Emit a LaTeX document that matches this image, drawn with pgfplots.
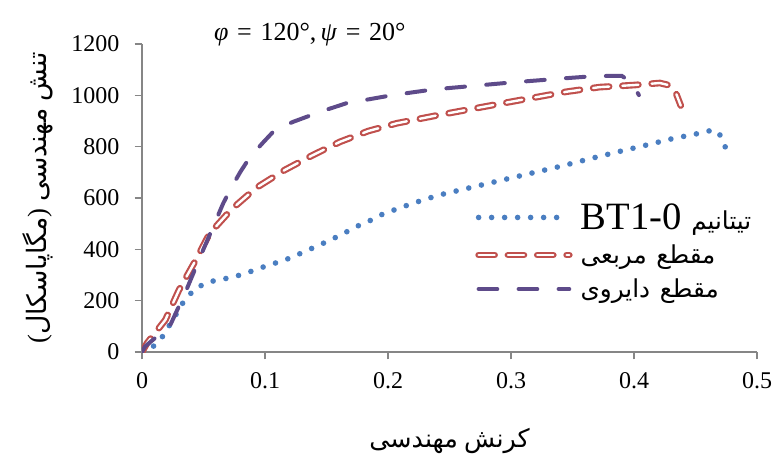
\documentclass[border=0pt]{standalone}
\usepackage{pgfplots}
\pgfplotsset{compat=1.18}
\usepackage{fontspec}
\setmainfont{Liberation Serif}
\newfontfamily\ar[Script=Arabic]{DejaVu Sans}
\newcommand\arl[1]{{\fontsize{18.5}{22}\selectfont\ar #1}}
\newcommand\tl[1]{{\fontsize{18}{21}\selectfont #1}}
\definecolor{cblue}{RGB}{74,126,193}
\definecolor{cred}{RGB}{192,80,77}
\definecolor{cpurple}{RGB}{94,75,138}
\definecolor{caxis}{RGB}{134,134,134}
\pgfplotsset{
  every x tick label/.append style={yshift=-6pt},
  every y tick label/.append style={xshift=-8pt},
}
\begin{document}
\begin{tikzpicture}
\begin{axis}[name=ax, at={(0,0)}, anchor=south west,
  scale only axis, width=461.25pt, height=231pt,
  clip mode=individual,
  xmin=0, xmax=0.5, ymin=0, ymax=1200,
  axis x line=bottom, axis y line=left,
  xtick={0,0.1,0.2,0.3,0.4,0.5}, ytick={0,200,400,600,800,1000,1200},
  xticklabels={\tl{0},\tl{0.1},\tl{0.2},\tl{0.3},\tl{0.4},\tl{0.5}},
  yticklabels={\tl{0},\tl{200},\tl{400},\tl{600},\tl{800},\tl{1000},\tl{1200}},
  axis line style={-, caxis, line width=1.1pt},
  tick align=outside, major tick length=5.5pt,
  tick style={caxis, line width=1pt},
  scaled ticks=false,
  x label style={at={(axis description cs:0.5,-0.29)}, anchor=center, font=\fontsize{19}{23}\selectfont},
  y label style={at={(axis description cs:-0.169,0.5)}, anchor=center, font=\fontsize{20}{24}\selectfont},
  xlabel={{\ar مهندسی} {\ar کرنش}},
  ylabel={({\ar مگاپاسکال}) {\ar مهندسی} {\ar تنش}},
  legend style={at={(rel axis cs:0.535,0.50)}, anchor=north west, draw=none, fill=none,
    font=\fontsize{29}{32}\selectfont, row sep=6pt, column sep=4pt},
  legend cell align=left,
  legend image code/.code={\draw[#1] (0pt,0pt) -- (68pt,0pt);},
]
\addplot[color=cblue, line width=4.2pt, line cap=round, dash pattern=on 0pt off 9.75pt] coordinates {
(0,0)(0.009,21)(0.017,62)(0.0295,161)(0.035,206)(0.044,249)(0.054,273)(0.066,284)(0.077,296)(0.088,313)(0.099,332)(0.11,349)(0.121,367)(0.132,391)(0.143,414)(0.153,436)(0.164,462)(0.174,488)(0.185,511)(0.196,538)(0.21,562)(0.22,579)(0.231,596)(0.242,612)(0.3,678)(0.3425,726)(0.365,754)(0.387,780)(0.409,805)(0.431,831)(0.454,853)(0.465,866)(0.47,845)(0.475,790)};
\addlegendentry{BT1-0 \arl{تیتانیم}}
\addplot[draw=cred, line width=1.6pt, double=white, double distance=1.8pt, line cap=round, dash pattern=on 12pt off 10pt] coordinates {
(0,0)(0.004,34)(0.019,125)(0.03,241)(0.043,352)(0.055,462)(0.073,557)(0.093,640)(0.116,709)(0.138,765)(0.161,819)(0.184,861)(0.207,891)(0.241,923)(0.3,975)(0.345,1014)(0.372,1032)(0.4,1040)(0.421,1048)(0.428,1040)(0.434,1010)(0.438,960)};
\addlegendentry{\arl{مربعی} \arl{مقطع}}
\addplot[color=cpurple, line width=3pt, line cap=round, dash pattern=on 14pt off 16pt] coordinates {
(0,0)(0.0024,21)(0.023,105)(0.028,157)(0.036,241)(0.0485,384)(0.059,501)(0.066,579)(0.0715,631)(0.08,702)(0.088,761)(0.099,819)(0.108,865)(0.123,897)(0.145,936)(0.166,969)(0.204,1001)(0.237,1023)(0.3,1050)(0.3425,1066)(0.368,1075)(0.39,1076)(0.398,1050)(0.404,1001)};
\addlegendentry{\arl{دایروی} \arl{مقطع}}
\node[font=\fontsize{19.5}{23}\selectfont] at (rel axis cs:0.273,1.03) {\textit{φ}\,\,=\,\,120°,\,\textit{ψ}\,\,=\,\,20°};
\end{axis}
\pgfresetboundingbox
\path[use as bounding box] ([shift={(-106.5pt,-81.75pt)}]ax.south west) rectangle ([shift={(14.25pt,33pt)}]ax.north east);
\end{tikzpicture}
\end{document}
